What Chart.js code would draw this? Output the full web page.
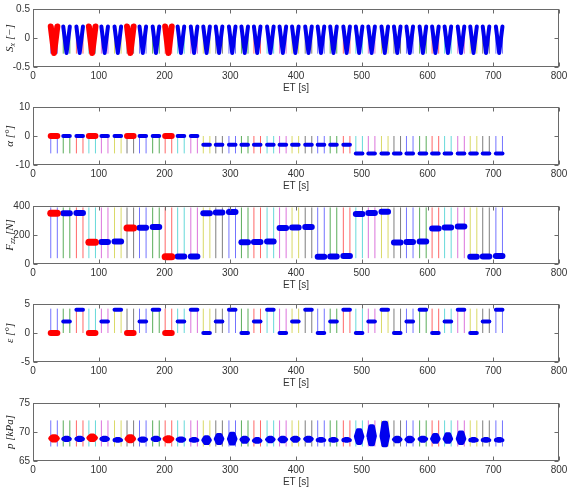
<!DOCTYPE html>
<html>
<head>
<meta charset="utf-8">
<script src="https://cdn.jsdelivr.net/npm/chart.js@4.4.0/dist/chart.umd.min.js"></script>
<style>
html, body { margin: 0; padding: 0; background: #fff; }
#wrap { position: relative; width: 573px; height: 493px; }
canvas { position: absolute; left: 0; }
</style>
</head>
<body>
<div id="wrap">
  <canvas id="c1" width="573" height="98" style="top:0px"></canvas>
  <canvas id="c2" width="573" height="98" style="top:98px"></canvas>
  <canvas id="c3" width="573" height="98" style="top:197px"></canvas>
  <canvas id="c4" width="573" height="98" style="top:295px"></canvas>
  <canvas id="c5" width="573" height="98" style="top:394px"></canvas>
</div>
<script>
// start of every test run [s], each run lasts ~10 s
const segStart = [27, 46, 66, 85, 104, 124, 143, 162, 182, 201, 220, 240,
                  259, 278, 298, 317, 336, 356, 375, 394, 414, 433, 452, 472,
                  491, 510, 530, 549, 568, 588, 607, 626, 646, 665, 684, 704];
const segDur = 10;
// runs plotted in red
const redSeg = [0, 3, 6, 9];

// slip sweep inside one run (time offset, slip)
const slipT = [0, 5, 10];
const slipV = [0.2, -0.26, 0.2];

const alpha = [0, 0, 0, 0, 0, 0, 0, 0, 0, 0, 0, 0,
               -3, -3, -3, -3, -3, -3, -3, -3, -3, -3, -3, -3,
               -6, -6, -6, -6, -6, -6, -6, -6, -6, -6, -6, -6];
const fz = [350, 350, 352, 150, 152, 155, 248, 250, 255, 50, 52, 52,
            350, 355, 358, 150, 152, 155, 248, 252, 255, 50, 52, 55,
            345, 352, 360, 148, 152, 155, 245, 252, 258, 50, 52, 55];
const eps = [0, 2, 4, 0, 2, 4, 0, 2, 4, 0, 2, 4,
             0, 2, 4, 0, 2, 4, 0, 2, 4, 0, 2, 4,
             0, 2, 4, 0, 2, 4, 0, 2, 4, 0, 2, 4];
const pMid = [68.9, 68.8, 68.8, 69.0, 68.8, 68.6, 68.8, 68.7, 68.8, 68.8, 68.7, 68.6,
              68.6, 68.8, 68.8, 68.7, 68.5, 68.7, 68.7, 68.8, 68.8, 68.6, 68.6, 68.6,
              69.2, 69.3, 69.3, 68.7, 68.7, 68.8, 68.8, 68.8, 68.8, 68.6, 68.6, 68.6];
const pLow = [68.6, 68.6, 68.6, 68.7, 68.6, 68.5, 68.5, 68.5, 68.6, 68.5, 68.5, 68.5,
              68.1, 68.1, 68.0, 68.3, 68.3, 68.4, 68.4, 68.5, 68.5, 68.5, 68.5, 68.5,
              68.1, 67.9, 67.7, 68.4, 68.4, 68.5, 68.3, 68.3, 68.1, 68.5, 68.5, 68.5];
const pHigh = [69.2, 69.0, 69.0, 69.3, 69.0, 68.8, 69.2, 68.9, 69.0, 69.0, 68.9, 68.8,
               69.1, 69.5, 69.7, 69.0, 68.8, 69.0, 69.0, 69.0, 69.0, 68.8, 68.8, 68.8,
               70.3, 71.0, 71.6, 69.0, 69.0, 69.0, 69.5, 69.6, 69.9, 68.8, 68.8, 68.8];
// outline of one pressure blob: time offset and which level it touches
const pBlobT = [0, 3, 7, 10, 7, 3, 0];
const pBlobK = ['mid', 'high', 'high', 'mid', 'low', 'low', 'mid'];

// span of the thin lines at run boundaries, per panel
const slipRange = [-0.27, 0.2];
const alphaRange = [-6, 0];
const fzRange = [40, 390];
const epsRange = [0, 4.2];
const pRange = [67.5, 72];

const lineColors = ['rgba(0,0,255,0.55)', 'rgba(0,128,0,0.65)', 'rgba(255,0,0,0.6)',
                    'rgba(0,191,191,0.6)', 'rgba(191,0,191,0.55)', 'rgba(191,191,0,0.6)',
                    'rgba(40,40,40,0.6)'];

const FONT = '"Liberation Sans", Arial, sans-serif';
const MATH = '"Liberation Serif", "DejaVu Serif", serif';

// marco y ticks hacia dentro, estilo matlab, y etiqueta del eje y
const boxPlugin = {
  id: 'mbox',
  afterDraw(chart, args, opts) {
    const { ctx, chartArea: a, scales: { x, y } } = chart;
    ctx.save();
    ctx.strokeStyle = '#6a6a6a';
    ctx.lineWidth = 1;
    const L = Math.round(a.left) + 0.5, R = Math.round(a.right) - 0.5;
    const T = Math.round(a.top) + 0.5, B = Math.round(a.bottom) - 0.5;
    ctx.strokeRect(L, T, R - L, B - T);
    ctx.beginPath();
    x.ticks.forEach(t => {
      const px = Math.round(x.getPixelForValue(t.value)) + 0.5;
      ctx.moveTo(px, B); ctx.lineTo(px, B - 4);
      ctx.moveTo(px, T); ctx.lineTo(px, T + 4);
    });
    y.ticks.forEach(t => {
      const py = Math.round(y.getPixelForValue(t.value)) + 0.5;
      ctx.moveTo(L, py); ctx.lineTo(L + 4, py);
      ctx.moveTo(R, py); ctx.lineTo(R - 4, py);
    });
    ctx.stroke();

    // y title with subscripts
    const parts = opts.title || [];
    const big = 'italic 11px ' + MATH, small = 'italic 8px ' + MATH;
    let w = 0;
    parts.forEach(p => { ctx.font = p.sub ? small : big; w += ctx.measureText(p.t).width; });
    ctx.translate(10, (a.top + a.bottom) / 2);
    ctx.rotate(-Math.PI / 2);
    ctx.fillStyle = '#222';
    ctx.textBaseline = 'middle';
    let cx = -w / 2;
    parts.forEach(p => {
      ctx.font = p.sub ? small : big;
      ctx.fillText(p.t, cx, p.sub ? 3 : 0);
      cx += ctx.measureText(p.t).width;
    });
    ctx.restore();
  }
};

function isRed(i) { return redSeg.includes(i); }
function col(i) { return isRed(i) ? '#ff0000' : '#0000ee'; }

function vLines(range) {
  const out = [];
  segStart.forEach((s, i) => {
    [s, s + segDur].forEach(xv => {
      out.push({
        data: [{ x: xv, y: range[0] }, { x: xv, y: range[1] }],
        borderColor: lineColors[i % 7], borderWidth: 1, pointRadius: 0, order: 3
      });
    });
  });
  return out;
}

function hBlobs(vals, wBlue, wRed) {
  return segStart.map((s, i) => ({
    data: [{ x: s, y: vals[i] }, { x: s + segDur, y: vals[i] }],
    borderColor: col(i),
    borderWidth: isRed(i) ? wRed : wBlue,
    borderCapStyle: 'round', pointRadius: 0, order: isRed(i) ? 0 : 1
  }));
}

function slipBlobs() {
  return segStart.map((s, i) => ({
    data: slipT.map((t, k) => ({ x: s + t, y: slipV[k] })),
    borderColor: col(i),
    borderWidth: isRed(i) ? 6 : 4,
    borderCapStyle: 'round', borderJoinStyle: 'round', pointRadius: 0,
    order: isRed(i) ? 0 : 1
  }));
}

function pBlobs() {
  const lv = { mid: pMid, high: pHigh, low: pLow };
  return segStart.map((s, i) => ({
    data: pBlobT.map((t, k) => ({ x: s + t, y: lv[pBlobK[k]][i] })),
    borderColor: col(i), backgroundColor: col(i), fill: 'shape',
    borderWidth: isRed(i) ? 5 : 4,
    borderCapStyle: 'round', borderJoinStyle: 'round', pointRadius: 0,
    order: isRed(i) ? 0 : 1
  }));
}

function panel(id, ymin, ymax, ystep, datasets, title) {
  new Chart(document.getElementById(id), {
    type: 'line',
    data: { datasets: datasets },
    options: {
      responsive: false,
      animation: false,
      events: [],
      layout: { padding: { left: 0, right: 14, top: 7, bottom: 0 } },
      plugins: { legend: { display: false }, tooltip: { enabled: false }, mbox: { title: title } },
      scales: {
        x: {
          type: 'linear', min: 0, max: 800,
          grid: { display: false, drawTicks: false },
          border: { display: false },
          ticks: { stepSize: 100, padding: 3, color: '#333', font: { family: FONT, size: 10 } },
          title: { display: true, text: 'ET [s]', color: '#333', padding: { top: 0, bottom: 4 },
                   font: { family: FONT, size: 10 } },
          afterFit: s => { s.height = 31; }
        },
        y: {
          min: ymin, max: ymax,
          grid: { display: false, drawTicks: false },
          border: { display: false },
          ticks: { stepSize: ystep, padding: 3, color: '#333', font: { family: FONT, size: 10 } },
          afterFit: s => { s.width = 33; }
        }
      }
    },
    plugins: [boxPlugin]
  });
}

panel('c1', -0.5, 0.5, 0.5, slipBlobs().concat(vLines(slipRange)),
      [{ t: 'S' }, { t: 'x', sub: true }, { t: ' [\u2212]' }]);
panel('c2', -10, 10, 10, hBlobs(alpha, 4, 6).concat(vLines(alphaRange)),
      [{ t: '\u03b1 [\u00b0]' }]);
panel('c3', 0, 400, 200, hBlobs(fz, 6, 7).concat(vLines(fzRange)),
      [{ t: 'F' }, { t: 'zz', sub: true }, { t: ' [N]' }]);
panel('c4', -5, 5, 5, hBlobs(eps, 4, 6).concat(vLines(epsRange)),
      [{ t: '\u03b5 [\u00b0]' }]);
panel('c5', 65, 75, 5, pBlobs().concat(vLines(pRange)),
      [{ t: 'p [kPa]' }]);
</script>
</body>
</html>
